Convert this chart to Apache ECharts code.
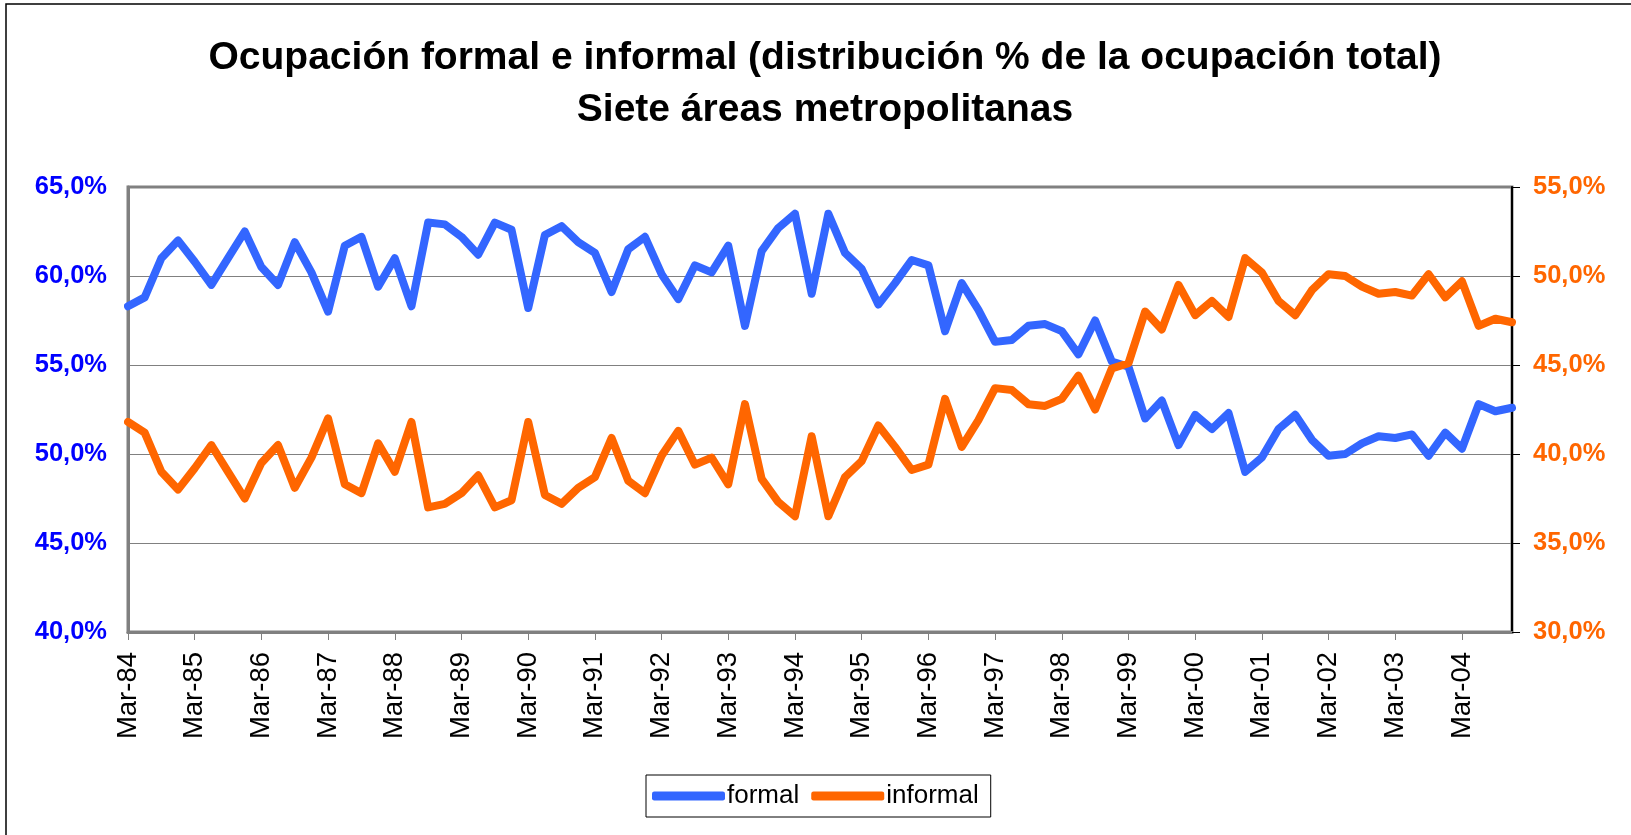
<!DOCTYPE html>
<html>
<head>
<meta charset="utf-8">
<title>Ocupación formal e informal</title>
<script src="https://cdn.jsdelivr.net/npm/echarts@6/dist/echarts.min.js"></script>
<style>
  html, body { margin: 0; padding: 0; background: #fff; }
  #chart { width: 1631px; height: 835px; }
</style>
</head>
<body>
<div id="chart"></div>
<script>
// trimestres Mar-84 ... Dic-04
var years = ["84","85","86","87","88","89","90","91","92","93","94",
             "95","96","97","98","99","00","01","02","03","04"];
var months = ["Mar", "Jun", "Sep", "Dic"];
var categories = [];
years.forEach(function (y) {
  months.forEach(function (m) { categories.push(m + "-" + y); });
});

// % de la ocupación total
var formal = [
  58.3, 58.8, 61.0, 62.0, 60.8, 59.5, 61.0, 62.5, 60.5, 59.5,
  61.9, 60.2, 58.0, 61.7, 62.2, 59.4, 61.0, 58.3, 63.0, 62.9,
  62.2, 61.2, 63.0, 62.6, 58.2, 62.3, 62.8, 61.9, 61.3, 59.1,
  61.5, 62.2, 60.1, 58.7, 60.6, 60.2, 61.7, 57.2, 61.4, 62.7,
  63.5, 59.0, 63.5, 61.3, 60.4, 58.4, 59.6, 60.9, 60.6, 56.9,
  59.6, 58.1, 56.3, 56.4, 57.2, 57.3, 56.9, 55.6, 57.5, 55.2,
  54.9, 52.0, 53.0, 50.5, 52.2, 51.4, 52.3, 49.0, 49.8, 51.4,
  52.2, 50.8, 49.9, 50.0, 50.6, 51.0, 50.9, 51.1, 49.9, 51.2,
  50.3, 52.8, 52.4, 52.6
];
var informal = [
  41.8, 41.2, 39.0, 38.0, 39.2, 40.5, 39.0, 37.5, 39.5, 40.5,
  38.1, 39.8, 42.0, 38.3, 37.8, 40.6, 39.0, 41.8, 37.0, 37.2,
  37.8, 38.8, 37.0, 37.4, 41.8, 37.7, 37.2, 38.1, 38.7, 40.9,
  38.5, 37.8, 39.9, 41.3, 39.4, 39.8, 38.3, 42.8, 38.6, 37.3,
  36.5, 41.0, 36.5, 38.7, 39.6, 41.6, 40.4, 39.1, 39.4, 43.1,
  40.4, 41.9, 43.7, 43.6, 42.8, 42.7, 43.1, 44.4, 42.5, 44.8,
  45.1, 48.0, 47.0, 49.5, 47.8, 48.6, 47.7, 51.0, 50.2, 48.6,
  47.8, 49.2, 50.1, 50.0, 49.4, 49.0, 49.1, 48.9, 50.1, 48.8,
  49.7, 47.2, 47.6, 47.4
];

var FONT = "Liberation Sans, Arial, sans-serif";

function pct(v) {
  return v.toFixed(1).replace(".", ",") + "%";
}

var chart = echarts.init(document.getElementById("chart"));
chart.setOption({
  animation: false,
  backgroundColor: "#ffffff",
  title: {
    text: "Ocupación formal e informal (distribución % de la ocupación total)\nSiete áreas metropolitanas",
    left: 820,
    top: 27,
    textAlign: "center",
    textStyle: {
      fontFamily: FONT,
      fontSize: 39,
      fontWeight: "bold",
      color: "#000",
      lineHeight: 52
    }
  },
  graphic: [
    {
      // marco exterior
      type: "rect",
      shape: { x: 6, y: 4, width: 1640, height: 840 },
      style: { fill: "none", stroke: "#000", lineWidth: 1.5 },
      silent: true
    }
  ],
  legend: {
    data: ["formal", "informal"],
    left: 646,
    top: 775,
    orient: "horizontal",
    icon: "roundRect",
    itemWidth: 73,
    itemHeight: 9,
    itemGap: 12,
    padding: [8, 12, 8, 6],
    borderColor: "#000",
    borderWidth: 1,
    textStyle: {
      fontFamily: FONT,
      fontSize: 26,
      color: "#000",
      padding: [0, 0, 0, -3]
    }
  },
  grid: {
    left: 128,
    right: 119,
    top: 187,
    bottom: 203,
    show: true,
    borderColor: "#808080",
    borderWidth: 3
  },
  xAxis: {
    type: "category",
    data: categories,
    boundaryGap: false,
    axisLine: { lineStyle: { color: "#808080", width: 3 } },
    axisTick: {
      interval: 3,
      length: 8,
      lineStyle: { color: "#808080", width: 1 }
    },
    axisLabel: {
      interval: 3,
      rotate: 90,
      margin: 20,
      fontFamily: FONT,
      fontSize: 27.5,
      color: "#000"
    },
    splitLine: { show: false }
  },
  yAxis: [
    {
      type: "value",
      position: "left",
      min: 40,
      max: 65,
      interval: 5,
      axisLine: { show: true, lineStyle: { color: "#808080", width: 3 } },
      axisTick: { show: false },
      axisLabel: {
        formatter: pct,
        margin: 21,
        fontFamily: FONT,
        fontSize: 25.5,
        fontWeight: "bold",
        color: "#0000ff"
      },
      splitLine: { lineStyle: { color: "#808080", width: 1 } }
    },
    {
      type: "value",
      position: "right",
      min: 30,
      max: 55,
      interval: 5,
      axisLine: { show: true, lineStyle: { color: "#000", width: 2 } },
      axisTick: { show: true, length: 8, lineStyle: { color: "#000", width: 1 } },
      axisLabel: {
        formatter: pct,
        margin: 21,
        fontFamily: FONT,
        fontSize: 25.5,
        fontWeight: "bold",
        color: "#ff6600"
      },
      splitLine: { show: false }
    }
  ],
  series: [
    {
      name: "formal",
      type: "line",
      yAxisIndex: 0,
      data: formal,
      symbol: "none",
      itemStyle: { color: "#3366ff" },
      lineStyle: { color: "#3366ff", width: 8, join: "round", cap: "round" }
    },
    {
      name: "informal",
      type: "line",
      yAxisIndex: 1,
      data: informal,
      symbol: "none",
      itemStyle: { color: "#ff6600" },
      lineStyle: { color: "#ff6600", width: 8, join: "round", cap: "round" }
    }
  ]
});
</script>
</body>
</html>
